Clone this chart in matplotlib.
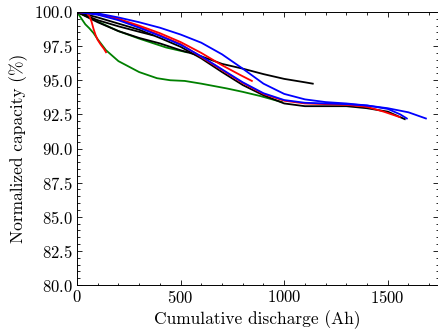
import matplotlib
matplotlib.use("Agg")
import matplotlib.pyplot as plt
from matplotlib.ticker import AutoMinorLocator

# Capacity fade curves, one series per cell
green1_x = [0, 20, 40, 60, 80, 100, 140, 200, 250, 300, 386, 450, 520, 600, 723, 800, 883, 989]
green1_y = [100, 99.55, 99.1, 98.8, 98.45, 98.0, 97.2, 96.4, 96.0, 95.6, 95.15, 95.0, 94.95, 94.75, 94.4, 94.15, 93.85, 93.4]

green2_x = [0, 100, 200, 300, 350, 430, 530]
green2_y = [100, 99.3, 98.6, 98.05, 97.8, 97.4, 97.05]

black_short_x = [0, 40, 100, 200, 300, 365]
black_short_y = [100, 99.75, 99.4, 98.95, 98.55, 98.3]

black_mid_x = [0, 40, 100, 200, 300, 400, 500, 600, 700, 800, 900, 1000, 1100, 1138]
black_mid_y = [100, 99.7, 99.25, 98.6, 98.1, 97.7, 97.2, 96.75, 96.2, 95.85, 95.45, 95.1, 94.85, 94.75]

black_long_x = [0, 100, 200, 300, 400, 500, 600, 700, 800, 900, 1000, 1100, 1200, 1300, 1400, 1500, 1582]
black_long_y = [100, 99.6, 99.15, 98.7, 98.1, 97.45, 96.6, 95.6, 94.65, 93.9, 93.3, 93.1, 93.1, 93.1, 92.95, 92.7, 92.15]

red_short_x = [0, 45, 60, 70, 80, 90, 100, 115, 130, 140]
red_short_y = [100, 99.95, 99.7, 99.3, 98.75, 98.3, 97.95, 97.6, 97.3, 97.05]

red_mid_x = [0, 100, 200, 300, 400, 500, 600, 700, 786, 844]
red_mid_y = [100, 99.85, 99.5, 99.0, 98.45, 97.8, 97.0, 96.1, 95.4, 94.95]

red_long_x = [0, 100, 200, 300, 400, 500, 600, 700, 800, 900, 1000, 1100, 1200, 1300, 1400, 1480, 1558]
red_long_y = [100, 99.85, 99.45, 98.9, 98.3, 97.65, 96.7, 95.75, 94.8, 94.0, 93.5, 93.3, 93.25, 93.2, 93.05, 92.7, 92.3]

blue1_x = [0, 100, 200, 300, 400, 500, 600, 700, 800, 900, 1000, 1100, 1200, 1300, 1400, 1500, 1600, 1684]
blue1_y = [100, 99.9, 99.6, 99.25, 98.85, 98.35, 97.75, 96.9, 95.85, 94.75, 94.0, 93.6, 93.4, 93.3, 93.15, 92.95, 92.65, 92.2]

blue2_x = [0, 100, 200, 300, 400, 500, 600, 700, 800, 900, 1000, 1100, 1200, 1300, 1400, 1500, 1560, 1592]
blue2_y = [100, 99.8, 99.4, 98.85, 98.25, 97.6, 96.75, 95.8, 94.85, 94.05, 93.55, 93.35, 93.3, 93.25, 93.15, 92.9, 92.5, 92.2]

plt.rcParams.update({
    "font.family": "serif",
    "font.serif": ["cmr10"],
    "mathtext.fontset": "cm",
    "axes.unicode_minus": False,
    "axes.formatter.use_mathtext": True,
    "font.size": 12,
})

fig = plt.figure(figsize=(4.38, 3.34), dpi=100)
ax = fig.add_axes([77 / 438, 49 / 334, 360.5 / 438, 273 / 334])

lw = 1.3
ax.plot(green1_x, green1_y, color="g", lw=lw)
ax.plot(green2_x, green2_y, color="g", lw=lw)
ax.plot(black_short_x, black_short_y, color="k", lw=lw)
ax.plot(black_mid_x, black_mid_y, color="k", lw=lw)
ax.plot(black_long_x, black_long_y, color="k", lw=lw)
ax.plot(red_short_x, red_short_y, color="r", lw=lw)
ax.plot(red_mid_x, red_mid_y, color="r", lw=lw)
ax.plot(red_long_x, red_long_y, color="r", lw=lw)
ax.plot(blue1_x, blue1_y, color="b", lw=lw)
ax.plot(blue2_x, blue2_y, color="b", lw=lw)

ax.set_xlim(0, 1740)
ax.set_ylim(80, 100)
ax.set_xticks([0, 500, 1000, 1500])
ax.set_yticks([80, 82.5, 85, 87.5, 90, 92.5, 95, 97.5, 100])
ax.xaxis.set_minor_locator(AutoMinorLocator(5))
ax.yaxis.set_minor_locator(AutoMinorLocator(5))
ax.tick_params(which="both", direction="in", top=True, right=True, width=0.6)
ax.tick_params(which="major", length=3.5, pad=3)
ax.tick_params(which="minor", length=1.8)
for s in ax.spines.values():
    s.set_linewidth(0.7)

ax.set_xlabel("Cumulative discharge (Ah)", fontsize=12.5, labelpad=3)
ax.set_ylabel("Normalized capacity (%)", fontsize=12.5)

fig.savefig("out.png", dpi=100)
